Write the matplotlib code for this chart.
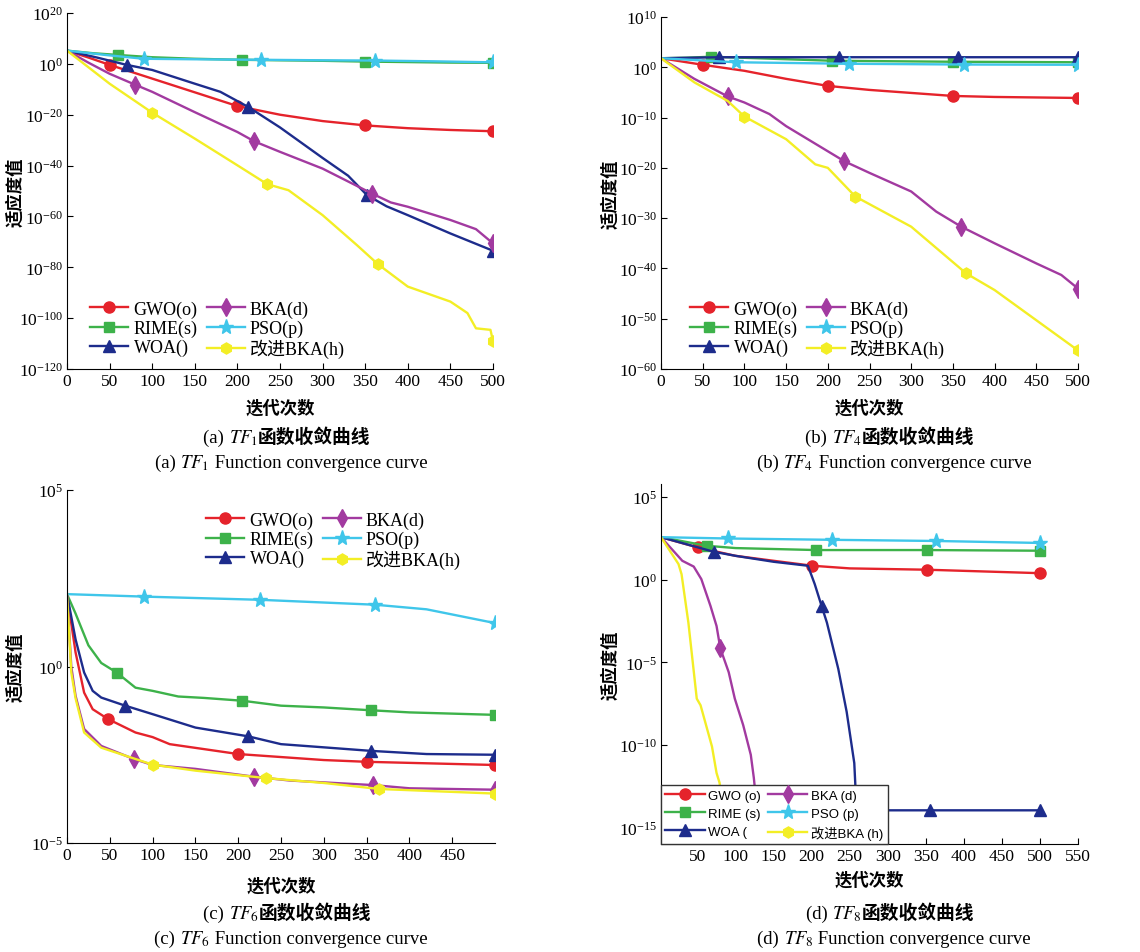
import matplotlib
matplotlib.use("Agg")
import matplotlib.pyplot as plt
from matplotlib.lines import Line2D
import numpy as np

plt.rcParams['font.family'] = ['Liberation Serif', 'Noto Sans CJK SC']
plt.rcParams['mathtext.fontset'] = 'stix'

# -----------------------
# Data (log10 of fitness)
# -----------------------
names = ["GWO", "RIME", "WOA", "BKA", "PSO", "改进BKA"]
tags = ["(o)", "(s)", "()", "(d)", "(p)", "(h)"]
tags_d = [" (o)", " (s)", " (", " (d)", " (p)", " (h)"]

# (a) TF1
a_x_gwo = [0, 25, 50, 100, 150, 200, 250, 300, 350, 400, 450, 500]
a_gwo = [5.2, 2.5, -0.4, -5.8, -11.2, -16.6, -20, -22.5, -24.2, -25.3, -26, -26.5]
a_x_rime = [0, 30, 60, 100, 150, 205, 250, 300, 350, 400, 450, 500]
a_rime = [5.2, 4.2, 3.5, 2.6, 2.0, 1.6, 1.4, 1.2, 0.9, 0.7, 0.5, 0.4]
a_x_woa = [0, 35, 70, 100, 150, 180, 213, 250, 300, 330, 352, 375, 400, 450, 500]
a_woa = [5.2, 2.5, -0.4, -2.4, -7.8, -11, -17, -25, -37, -44, -51.6, -56, -59.5, -66.7, -73.5]
a_x_bka = [0, 25, 50, 80, 100, 150, 200, 220, 250, 300, 358, 380, 400, 450, 480, 500]
a_bka = [5.2, 0.5, -3.9, -8.2, -11, -19, -26.8, -30.5, -34.6, -41.2, -51, -54.5, -56.2, -61.4, -65, -70.6]
a_x_pso = [0, 45, 90, 150, 228, 300, 362, 430, 500]
a_pso = [5.2, 3.5, 2.0, 1.8, 1.6, 1.4, 1.3, 1.0, 0.6]
a_x_ibka = [0, 50, 100, 150, 200, 235, 260, 300, 340, 365, 400, 450, 470, 480, 497, 500]
a_ibka = [5.2, -7.8, -19.2, -29.4, -39.9, -47.3, -49.7, -59.5, -71.2, -78.8, -87.6, -93.5, -98, -104, -104.6, -109]
a_marks = [[50, 200, 350, 500], [60, 205, 350, 500], [70, 213, 352, 500],
           [80, 220, 358, 500], [90, 228, 362, 500], [100, 235, 365, 500]]

# (b) TF4
b_x_gwo = [0, 50, 100, 150, 200, 250, 300, 350, 400, 450, 500]
b_gwo = [1.8, 0.5, -0.7, -2.3, -3.7, -4.5, -5.1, -5.7, -5.9, -6.0, -6.1]
b_x_rime = [0, 30, 60, 205, 350, 500]
b_rime = [1.8, 1.9, 2.1, 1.3, 1.1, 1.0]
b_x_woa = [0, 70, 213, 356, 500]
b_woa = [1.8, 2.0, 2.0, 2.0, 2.0]
b_x_bka = [0, 40, 80, 100, 130, 150, 200, 220, 250, 300, 330, 360, 400, 450, 480, 500]
b_bka = [1.8, -2.3, -5.8, -7.0, -9.3, -11.7, -16.7, -18.7, -21, -24.7, -28.7, -31.7, -35, -39, -41.3, -44]
b_x_pso = [0, 90, 226, 363, 500]
b_pso = [1.8, 1.0, 0.7, 0.55, 0.5]
b_x_ibka = [0, 40, 80, 100, 150, 185, 200, 233, 300, 366, 400, 450, 500]
b_ibka = [1.8, -3, -6.7, -9.8, -14.3, -19.3, -20, -25.7, -31.7, -41, -44.3, -50.3, -56.3]
b_marks = [[50, 200, 350, 500], [60, 205, 350, 500], [70, 213, 356, 500],
           [80, 220, 360, 500], [90, 226, 363, 500], [100, 233, 366, 500]]

# (c) TF6
c_x_gwo = [0, 10, 20, 30, 48, 80, 100, 120, 200, 300, 350, 500]
c_gwo = [2.05, 0.4, -0.74, -1.21, -1.49, -1.87, -2.0, -2.2, -2.48, -2.65, -2.7, -2.79]
c_x_rime = [0, 10, 25, 40, 58, 80, 100, 130, 160, 205, 250, 300, 355, 400, 500]
c_rime = [2.05, 1.5, 0.6, 0.1, -0.17, -0.6, -0.69, -0.85, -0.89, -0.97, -1.11, -1.16, -1.24, -1.3, -1.37]
c_x_woa = [0, 10, 20, 30, 40, 68, 100, 150, 212, 250, 300, 355, 420, 500]
c_woa = [2.05, 0.77, -0.17, -0.69, -0.88, -1.11, -1.35, -1.73, -1.98, -2.2, -2.29, -2.39, -2.48, -2.5]
c_x_bka = [0, 5, 10, 20, 40, 78, 100, 150, 218, 260, 358, 400, 500]
c_bka = [2.05, 0.0, -0.83, -1.77, -2.25, -2.62, -2.79, -2.9, -3.12, -3.23, -3.36, -3.45, -3.49]
c_x_pso = [0, 90, 225, 360, 420, 500]
c_pso = [2.05, 1.98, 1.89, 1.75, 1.62, 1.23]
c_x_ibka = [0, 5, 10, 20, 40, 100, 150, 232, 300, 365, 500]
c_ibka = [2.05, -0.17, -0.9, -1.87, -2.3, -2.78, -2.95, -3.16, -3.3, -3.47, -3.6]
c_marks = [[48, 200, 350, 500], [58, 205, 355, 500], [68, 212, 355, 500],
           [78, 218, 358, 500], [90, 225, 360, 500], [100, 232, 365, 500]]

# (d) TF8
d_x_gwo = [2, 50, 100, 150, 201, 250, 351, 500]
d_gwo = [2.58, 1.96, 1.45, 1.15, 0.85, 0.69, 0.61, 0.4]
d_x_rime = [2, 62, 100, 206, 352, 500]
d_rime = [2.58, 2.06, 1.92, 1.8, 1.8, 1.76]
d_x_woa = [2, 71, 100, 150, 195, 200, 204, 213, 220, 235, 246, 256, 259, 355, 500]
d_woa = [2.58, 1.7, 1.45, 1.09, 0.85, 0.24, -0.26, -1.58, -2.59, -5.4, -8.0, -11.1, -13.96, -13.96, -13.96]
d_x_bka = [2, 30, 45, 55, 67, 75, 80, 91, 99, 110, 120, 124, 135]
d_bka = [2.58, 1.15, 0.8, 0.04, -1.58, -2.8, -4.16, -5.6, -7.2, -8.8, -10.6, -12, -17]
d_x_pso = [2, 90, 227, 363, 500]
d_pso = [2.58, 2.5, 2.42, 2.35, 2.23]
d_x_ibka = [2, 25, 29, 38, 49, 54, 60, 69, 75, 79, 90]
d_ibka = [2.58, 0.95, 0.34, -2.6, -7.2, -7.6, -8.6, -10.1, -11.7, -12.3, -17]
d_marks = [[50, 201, 351, 500], [62, 206, 352, 500], [71, 213, 355, 500],
           [80], [90, 227, 363, 500], []]

# -----------------------
# Styles
# -----------------------
colors = ['#e5232b', '#3db24a', '#1d2c8c', '#a23aa0', '#3fc6ea', '#f3ee25']
markers = ['o', 's', '^', 'd', '*', 'h']
msizes = [8, 6.5, 8, 9, 11, 8]

W, H = 1140, 953
fig = plt.figure(figsize=(W / 100, H / 100), dpi=100)


def px_axes(left, top, right, bottom):
    return fig.add_axes([left / W, 1 - bottom / H, (right - left) / W, (bottom - top) / H])


def draw(ax, xs, ys, marks):
    for i in range(6):
        idx = [xs[i].index(m) for m in marks[i]]
        ax.plot(xs[i], 10.0 ** np.array(ys[i]), color=colors[i], lw=1.7,
                marker=markers[i], ms=msizes[i], markevery=idx,
                mfc=colors[i], mec=colors[i])


def style(ax, xlim, ylim, yticks, xticks, xl_y=-0.083):
    ax.set_yscale('log')
    ax.set_xlim(*xlim)
    ax.set_ylim(*ylim)
    ax.set_yticks(yticks)
    ax.set_xticks(xticks)
    ax.minorticks_off()
    for s in ['top', 'right']:
        ax.spines[s].set_visible(False)
    ax.tick_params(direction='in', length=4, labelsize=12.5, pad=3)
    ax.set_xlabel("迭代次数", family=['Noto Sans CJK SC'], fontsize=12.5,
                  fontweight='bold')
    ax.set_ylabel("适应度值", family=['Noto Sans CJK SC'], fontsize=12.5,
                  fontweight='bold')
    ax.xaxis.set_label_coords(0.5, xl_y)
    ax.yaxis.set_label_coords(-0.1, 0.5)


def handles():
    return [Line2D([], [], color=colors[i], lw=1.7, marker=markers[i], ms=msizes[i],
                   mfc=colors[i], mec=colors[i]) for i in range(6)]


# legend order: column 1 = GWO, RIME, WOA ; column 2 = BKA, PSO, 改进BKA
def leg(ax, tg, **kw):
    labels = [names[i] + tg[i] for i in range(6)]
    return ax.legend(handles(), labels, ncol=2, **kw)


serif_leg = dict(frameon=False, fontsize=13, handlelength=2.1, labelspacing=0.1,
                 columnspacing=0.5, handletextpad=0.3, borderpad=0.2)

# (a)
ax = px_axes(67, 14, 493, 370)
draw(ax, [a_x_gwo, a_x_rime, a_x_woa, a_x_bka, a_x_pso, a_x_ibka],
     [a_gwo, a_rime, a_woa, a_bka, a_pso, a_ibka], a_marks)
style(ax, (0, 500), (1e-120, 1e20), [10.0 ** k for k in range(-120, 21, 20)],
      range(0, 501, 50))
leg(ax, tags, loc='lower left', bbox_to_anchor=(0.025, -0.005), **serif_leg)

# (b)
ax = px_axes(661, 18, 1078, 370)
draw(ax, [b_x_gwo, b_x_rime, b_x_woa, b_x_bka, b_x_pso, b_x_ibka],
     [b_gwo, b_rime, b_woa, b_bka, b_pso, b_ibka], b_marks)
style(ax, (0, 500), (1e-60, 1e10), [10.0 ** k for k in range(-60, 11, 10)],
      range(0, 501, 50))
leg(ax, tags, loc='lower left', bbox_to_anchor=(0.04, -0.005), **serif_leg)

# (c)
ax = px_axes(67, 491, 495, 844)
draw(ax, [c_x_gwo, c_x_rime, c_x_woa, c_x_bka, c_x_pso, c_x_ibka],
     [c_gwo, c_rime, c_woa, c_bka, c_pso, c_ibka], c_marks)
style(ax, (0, 500), (1e-5, 1e5), [1e-5, 1e0, 1e5], range(0, 451, 50), xl_y=-0.095)
leg(ax, tags, loc='upper right', bbox_to_anchor=(0.95, 0.975), **serif_leg)

# (d)
ax = px_axes(661, 485, 1078, 845)
draw(ax, [d_x_gwo, d_x_rime, d_x_woa, d_x_bka, d_x_pso, d_x_ibka],
     [d_gwo, d_rime, d_woa, d_bka, d_pso, d_ibka], d_marks)
style(ax, (2, 550), (1e-16, 10 ** 5.8), [1e-15, 1e-10, 1e-5, 1e0, 1e5],
      range(50, 551, 50), xl_y=-0.075)
lg = leg(ax, tags_d, loc='lower left', bbox_to_anchor=(0, 0), frameon=True,
         prop={'family': ['Liberation Sans', 'Noto Sans CJK SC'], 'size': 9.5},
         handlelength=3.0, labelspacing=0.45, columnspacing=0.5,
         handletextpad=0.3, borderpad=0.3, borderaxespad=0, fancybox=False,
         framealpha=1)
lg.get_frame().set_edgecolor('#333333')
lg.get_frame().set_linewidth(1.0)

# -----------------------
# Captions (pieces laid out left to right so CJK and mathtext can mix)
# -----------------------
renderer = fig.canvas.get_renderer()


def caption_line(pieces, cx, cy):
    texts = []
    for s, kw in pieces:
        t = fig.text(0, 1 - cy / H, s, ha='left', va='baseline', **kw)
        texts.append(t)
    widths = [t.get_window_extent(renderer).width for t in texts]
    x = cx - sum(widths) / 2
    for t, w in zip(texts, widths):
        t.set_x(x / W)
        x += w


serif = dict(fontsize=13.5, family=['Liberation Serif'])
cjk = dict(fontsize=13.5, family=['Noto Sans CJK SC'], fontweight='bold')
caps = [("a", "1", 287, 443), ("b", "4", 890, 443), ("c", "6", 287, 919), ("d", "8", 890, 919)]
for letter, sub, cx, cy in caps:
    caption_line([(f"({letter}) ", serif), (f"$\\mathit{{TF}}_{{{sub}}}$", serif),
                  ("函数收敛曲线", cjk)], cx, cy)
    caption_line([(f"({letter}) ", serif), (f"$\\mathit{{TF}}_{{{sub}}}$", serif),
                  (" Function convergence curve", serif)], cx + 4, cy + 25)

fig.savefig("out.png", dpi=100)
